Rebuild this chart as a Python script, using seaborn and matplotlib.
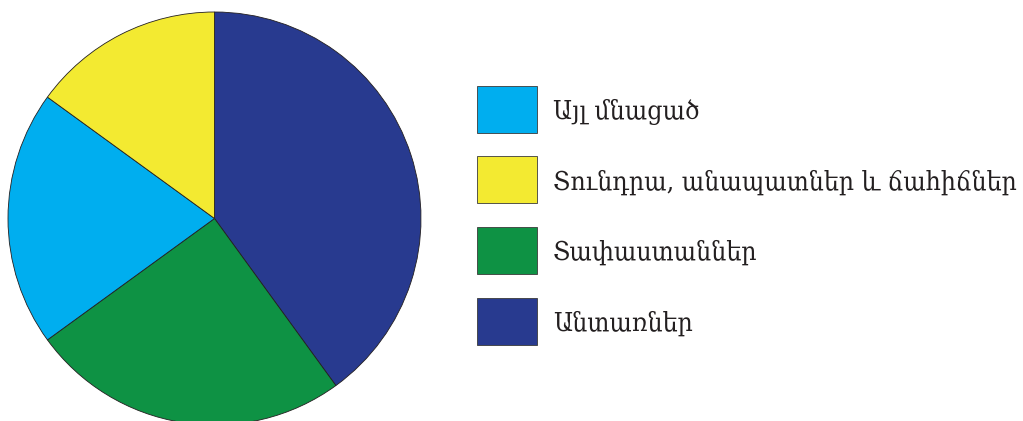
import seaborn as sns
import matplotlib.pyplot as plt
from matplotlib.patches import Rectangle
from matplotlib import font_manager

sns.set_theme(style="white")
plt.rcParams['font.family'] = ['DejaVu Serif', 'DejaVu Sans']

# data, clockwise from 12 o'clock
labels = ['Անտառներ', 'Տափաստաններ', 'Այլ մնացած', 'Տունդրա, անապատներ և ճահիճներ']
shares = [40, 25, 20, 15]
colors = ['#283A8F', '#0E9244', '#00AEEF', '#F3EA31']
legend_order = [2, 3, 1, 0]

W, H = 1023, 421
fig = plt.figure(figsize=(W / 100, H / 100), dpi=100)
fig.patch.set_facecolor('white')

# pie axes: centre (214.5, 218.5) px from top, radius ~206.5 px
r = 206.5
ax = fig.add_axes([(214.5 - r) / W, (H - 218.5 - r) / H, 2 * r / W, 2 * r / H])
wedges, _ = ax.pie(shares, colors=colors, startangle=90, counterclock=False,
                   wedgeprops=dict(edgecolor='#231f20', linewidth=0.6))
ax.set_xlim(-1, 1)
ax.set_ylim(-1, 1)
ax.set_aspect('equal')
ax.axis('off')

print(font_manager.findfont(font_manager.FontProperties(family='DejaVu Serif', stretch='condensed')))

# legend drawn by hand: boxes 60x47 px, rows every 70.5 px
for row, i in enumerate(legend_order):
    top = 86 + row * 70.5
    fig.patches.append(Rectangle((477 / W, 1 - (top + 47) / H), 60 / W, 47 / H,
                                 transform=fig.transFigure, facecolor=colors[i],
                                 edgecolor='#3a3a3a', linewidth=0.6))
    fig.text(553 / W, 1 - (top + 23.5 + 9.5) / H, labels[i], fontsize=19,
             fontstretch='condensed', va='baseline', ha='left', color='#231f20')

plt.savefig('out.png', dpi=100)
plt.close()
